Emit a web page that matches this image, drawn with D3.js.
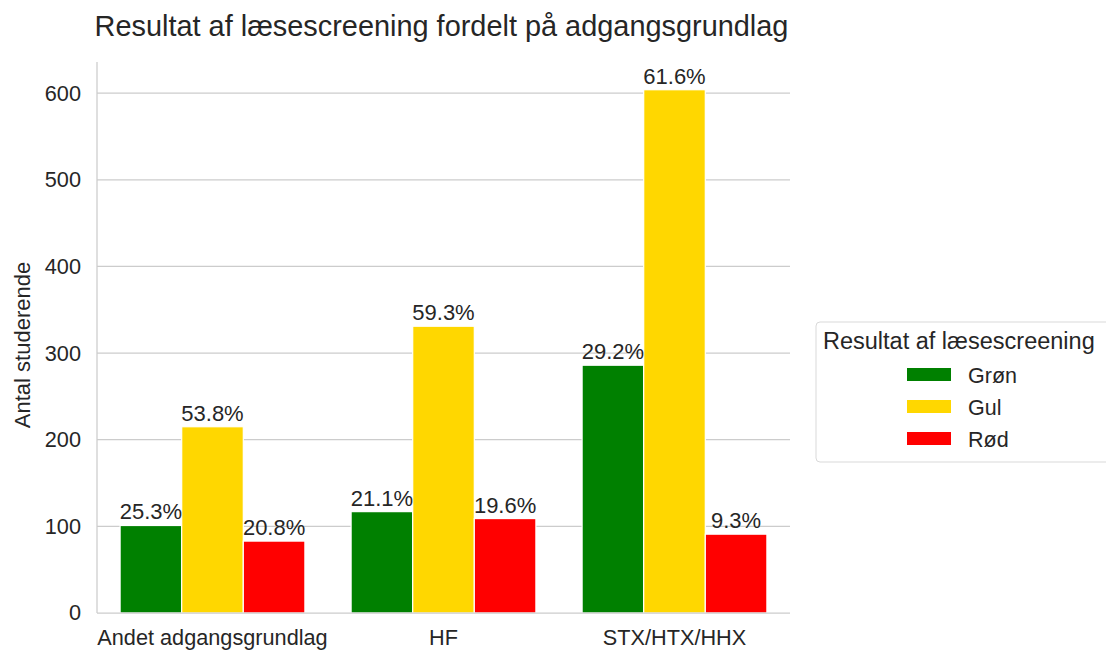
<!DOCTYPE html>
<html lang="da">
<head>
<meta charset="UTF-8">
<style>
  body { margin: 0; background: #fff; }
  svg { font-family: "Liberation Sans", Arial, sans-serif; }
  .grid line { stroke: #cccccc; stroke-width: 1.25; }
  .axis path, .axis line { display: none; }
  .axis text { fill: #262626; font-size: 21.7px; }
  .spine { stroke: #cccccc; stroke-width: 1.25; }
  .label { fill: #262626; font-size: 22px; text-anchor: middle; }
</style>
</head>
<body>
<script src="https://cdn.jsdelivr.net/npm/d3@7/dist/d3.min.js"></script>
<script>
// data
var categories = ["Andet adgangsgrundlag", "HF", "STX/HTX/HHX"];
var series = ["Grøn", "Gul", "Rød"];
var colors = ["#008000", "#ffd700", "#ff0000"];
var groen = [101, 117, 286];
var gul = [215, 331, 604];
var roed = [83, 109, 91];
var pctGroen = ["25.3%", "21.1%", "29.2%"];
var pctGul = ["53.8%", "59.3%", "61.6%"];
var pctRoed = ["20.8%", "19.6%", "9.3%"];
var yTicks = [0, 100, 200, 300, 400, 500, 600];

var values = [groen, gul, roed];
var pcts = [pctGroen, pctGul, pctRoed];

var W = 1106, H = 652;
var margin = { top: 62, left: 97, right: 316, bottom: 39 };
var width = W - margin.left - margin.right,
    height = H - margin.top - margin.bottom;

var svg = d3.select("body").append("svg")
    .attr("width", W).attr("height", H);

var g = svg.append("g")
    .attr("transform", "translate(" + margin.left + "," + margin.top + ")");

var x = d3.scaleBand().domain(categories).range([0, width]).padding(0);
var x1 = d3.scaleBand().domain(series).range([0.1 * x.bandwidth(), 0.9 * x.bandwidth()]);
var y = d3.scaleLinear().domain([0, 636]).range([height, 0]);

// grid
g.append("g").attr("class", "grid")
    .selectAll("line").data(yTicks.slice(1)).enter().append("line")
    .attr("x1", 0).attr("x2", width)
    .attr("y1", function (d) { return y(d); })
    .attr("y2", function (d) { return y(d); });

// bars
var rows = [];
series.forEach(function (s, i) {
    categories.forEach(function (c, j) {
        rows.push({ cat: c, ser: s, v: values[i][j], pct: pcts[i][j], color: colors[i] });
    });
});

g.selectAll(".bar").data(rows).enter().append("rect")
    .attr("class", "bar")
    .attr("x", function (d) { return x(d.cat) + x1(d.ser); })
    .attr("width", x1.bandwidth())
    .attr("y", function (d) { return y(d.v); })
    .attr("height", function (d) { return y(0) - y(d.v); })
    .attr("fill", function (d) { return d.color; })
    .attr("stroke", "#fff").attr("stroke-width", 1.2);

g.selectAll(".label").data(rows).enter().append("text")
    .attr("class", "label")
    .attr("x", function (d) { return x(d.cat) + x1(d.ser) + x1.bandwidth() / 2; })
    .attr("y", function (d) { return y(d.v) - 6; })
    .text(function (d) { return d.pct; });

// spines
g.append("line").attr("class", "spine")
    .attr("x1", 0).attr("x2", 0).attr("y1", 0).attr("y2", height);
g.append("line").attr("class", "spine")
    .attr("x1", 0).attr("x2", width).attr("y1", height).attr("y2", height);

// axes
g.append("g").attr("class", "axis")
    .call(d3.axisLeft(y).tickValues(yTicks).tickSize(0).tickPadding(16));
g.append("g").attr("class", "axis")
    .attr("transform", "translate(0," + height + ")")
    .call(d3.axisBottom(x).tickSize(0).tickPadding(17));

// y label
svg.append("text")
    .attr("transform", "translate(30," + 345 + ") rotate(-90)")
    .attr("text-anchor", "middle")
    .attr("fill", "#262626").attr("font-size", "22px")
    .text("Antal studerende");

// title
svg.append("text")
    .attr("x", margin.left + width / 2 - 2).attr("y", 36)
    .attr("text-anchor", "middle")
    .attr("fill", "#262626").attr("font-size", "28.9px")
    .text("Resultat af læsescreening fordelt på adgangsgrundlag");

// legend
var lg = svg.append("g").attr("transform", "translate(816,322)");
lg.append("rect")
    .attr("width", 320).attr("height", 140).attr("rx", 4)
    .attr("fill", "#fff").attr("stroke", "#d9d9d9").attr("stroke-width", 1);
lg.append("text")
    .attr("x", 7).attr("y", 27)
    .attr("fill", "#262626").attr("font-size", "23.5px")
    .text("Resultat af læsescreening");
var items = lg.selectAll(".item").data(series).enter().append("g")
    .attr("transform", function (d, i) { return "translate(91," + (46 + i * 32) + ")"; });
items.append("rect")
    .attr("width", 44).attr("height", 13)
    .attr("fill", function (d, i) { return colors[i]; });
items.append("text")
    .attr("x", 61).attr("y", 15)
    .attr("fill", "#262626").attr("font-size", "21.5px")
    .text(function (d) { return d; });
</script>
</body>
</html>
